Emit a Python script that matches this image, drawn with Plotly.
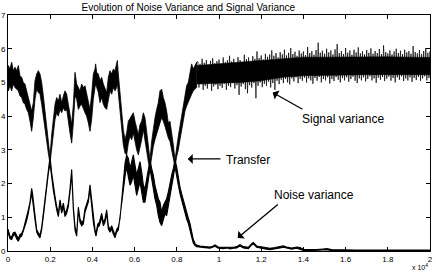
import plotly.graph_objects as go

# ---------------- data ----------------
# Signal variance band (upper trace): sample index, lower / upper edge of the noisy band
signal_x = [0, 16, 95, 174, 253, 332, 411, 490, 569, 648, 727, 806, 885, 964, 1043, 1122, 1201, 1280,
            1359, 1438, 1517, 1596, 1675, 1754, 1833, 1912, 1991, 2070, 2149, 2228, 2307, 2386, 2465,
            2544, 2623, 2702, 2781, 2860, 2939, 3018, 3097, 3176, 3255, 3334, 3413, 3491, 3570, 3649,
            3728, 3807, 3886, 3965, 4044, 4123, 4154, 4202, 4281, 4360, 4439, 4518, 4597, 4676, 4755,
            4834, 4913, 4992, 5071, 5150, 5181, 5229, 5308, 5387, 5466, 5545, 5624, 5703, 5782, 5861,
            5940, 6019, 6098, 6177, 6256, 6335, 6414, 6492, 6571, 6650, 6729, 6808, 6887, 6966, 7045,
            7124, 7203, 7282, 7361, 7440, 7519, 7598, 7677, 7756, 7835, 7914, 7993, 8071, 8150, 8229,
            8308, 8387, 8466, 8545, 8624, 8703, 8782, 8861, 8940]
signal_lo = [4.8, 4.75, 4.9, 4.75, 4.95, 4.85, 4.8, 4.75, 4.6, 4.55, 4.4, 4.35, 4.2, 4.1, 3.85, 3.55, 3.95, 4.5,
             4.8, 4.7, 4.65, 4.35, 3.95, 3.6, 3.3, 2.9, 2.6, 3.05, 3.5, 3.9, 4.1, 4.0, 4.2,
             4.1, 4.25, 4.15, 4.2, 3.8, 3.5, 3.2, 3.8, 4.6, 4.5, 4.2, 4.3, 4.35, 4.2, 4.1,
             4.0, 3.8, 3.55, 3.9, 4.5, 4.85, 4.95, 4.85, 4.7, 4.4, 4.55, 4.35, 4.25, 4.2, 4.5,
             4.75, 4.65, 4.85, 4.75, 4.85, 5.0, 4.65, 4.1, 3.65, 3.15, 2.9, 2.85, 3.2, 3.4, 3.3,
             3.5, 3.25, 3.0, 2.85, 3.1, 3.3, 3.6, 3.4, 3.0, 2.65, 2.45, 2.8, 3.1, 3.3, 3.45,
             3.65, 3.8, 3.95, 3.85, 3.7, 3.55, 3.35, 3.25, 3.1, 2.75, 2.5, 2.8, 3.0, 3.3, 3.6,
             3.9, 4.15, 4.3, 4.45, 4.55, 4.65, 4.75, 4.8, 4.85]
signal_hi = [5.35, 5.5, 5.4, 5.6, 5.35, 5.45, 5.35, 5.5, 5.2, 5.15, 5.0, 4.95, 4.75, 4.55, 4.35, 4.15, 4.4, 5.05,
             5.25, 5.35, 5.25, 5.0, 4.6, 4.15, 3.8, 3.3, 2.8, 3.45, 3.95, 4.35, 4.55, 4.45, 4.65,
             4.4, 4.6, 4.75, 4.65, 4.35, 4.05, 3.75, 4.35, 5.3, 4.95, 4.85, 4.75, 4.95, 4.85, 4.9,
             4.65, 4.45, 4.2, 4.65, 5.25, 5.4, 5.55, 5.3, 5.25, 5.05, 5.15, 4.95, 4.8, 4.7, 5.15,
             5.35, 5.25, 5.4, 5.35, 5.55, 5.65, 5.25, 4.7, 4.1, 3.6, 3.3, 3.5, 3.85, 3.95, 4.05,
             4.1, 3.85, 3.65, 3.45, 3.75, 3.85, 4.1, 3.95, 3.55, 3.05, 2.7, 3.25, 3.65, 3.95, 4.2,
             4.4, 4.75, 4.8, 4.55, 4.4, 4.15, 3.8, 3.85, 3.55, 3.15, 2.7, 3.15, 3.4, 3.7, 4.0,
             4.35, 4.7, 4.9, 5.0, 5.25, 5.55, 5.4, 5.5, 5.6]

# Signal variance plateau: solid core of the band (every 1000 samples)
core_x = [8940, 10000, 11000, 12000, 13000, 14000, 15000, 16000, 17000, 18000, 19000, 20000]
core_lo = [4.95, 4.98, 5.0, 5.05, 5.15, 5.2, 5.22, 5.22, 5.23, 5.23, 5.22, 5.23]
core_hi = [5.5, 5.55, 5.6, 5.65, 5.7, 5.75, 5.75, 5.76, 5.75, 5.76, 5.75, 5.74]

# Signal variance plateau (every 100 samples from 9000 to 20000): peaks and troughs of the noise
plateau_x = list(range(9000, 20001, 100))
plateau_hi = [5.62, 5.55, 5.70, 5.58, 5.66, 5.52, 5.64, 5.72, 5.57, 5.63,
              5.68, 5.55, 5.74, 5.60, 5.66, 5.79, 5.62, 5.70, 5.58, 5.75,
              5.66, 5.61, 5.82, 5.69, 5.74, 5.63, 5.78, 5.70, 5.92, 5.72,
              5.80, 5.68, 5.85, 5.76, 5.83, 5.95, 5.79, 5.87, 5.74, 5.90,
              5.83, 5.97, 5.80, 5.88, 6.02, 5.84, 5.91, 5.79, 5.95, 5.86,
              5.92, 5.81, 6.05, 5.87, 5.93, 5.82, 5.96, 6.18, 5.88, 5.94,
              5.85, 6.00, 5.89, 5.95, 5.83, 5.98, 6.14, 5.87, 5.93, 5.84,
              6.02, 5.88, 5.95, 5.82, 5.97, 5.89, 6.04, 5.86, 5.92, 5.83,
              5.96, 5.88, 6.01, 5.85, 5.93, 5.87, 5.99, 5.84, 6.10, 5.90,
              5.86, 5.95, 5.83, 5.92, 6.00, 5.87, 5.94, 5.84, 5.97, 5.89,
              5.93, 5.85, 6.08, 5.90, 5.86, 5.96, 5.84, 5.93, 6.02, 5.88,
              5.92]
plateau_lo = [4.85, 4.95, 4.78, 4.90, 4.82, 4.97, 4.75, 4.88, 4.93, 4.80,
              4.90, 4.84, 4.96, 4.78, 4.90, 4.86, 4.98, 4.82, 4.92, 4.63,
              4.88, 4.95, 4.80, 4.68, 4.92, 4.85, 4.98, 4.53, 4.90, 5.00,
              4.86, 4.96, 4.90, 5.02, 4.85, 4.98, 4.78, 5.05, 4.95, 5.08,
              4.98, 5.10, 5.00, 4.94, 5.12, 5.03, 5.15, 4.98, 5.10, 5.05,
              5.14, 5.00, 5.12, 5.06, 4.96, 5.13, 5.05, 5.16, 5.00, 5.10,
              5.06, 5.15, 4.97, 5.10, 5.04, 5.16, 5.08, 5.00, 5.13, 5.06,
              5.15, 5.02, 5.10, 5.17, 5.05, 4.98, 5.12, 5.06, 5.15, 5.03,
              5.10, 5.18, 5.06, 5.12, 4.99, 5.14, 5.08, 5.16, 5.04, 5.11,
              5.17, 5.05, 5.13, 5.00, 5.15, 5.08, 5.18, 5.04, 5.12, 5.06,
              5.15, 5.02, 5.13, 5.07, 5.16, 5.05, 5.12, 5.18, 5.06, 5.13,
              5.10]

# Noise variance (lower trace): sample index, lower / upper edge
noise_x = [0, 16, 95, 174, 253, 332, 411, 490, 569, 648, 727, 806, 885, 964, 1043, 1083, 1122, 1162, 1201,
           1280, 1359, 1438, 1517, 1596, 1675, 1754, 1833, 1912, 1991, 2070, 2149, 2228, 2307, 2386,
           2465, 2544, 2623, 2702, 2781, 2860, 2939, 3018, 3097, 3176, 3255, 3334, 3413, 3491, 3570,
           3649, 3728, 3807, 3886, 3965, 4044, 4123, 4170, 4250, 4330, 4400, 4439, 4518, 4597, 4676,
           4755, 4834, 4913, 4992, 5071, 5150, 5229, 5308, 5387, 5466, 5545, 5624, 5703, 5782, 5861,
           5940, 6019, 6098, 6177, 6256, 6335, 6414, 6492, 6571, 6650, 6729, 6808, 6887, 6966, 7045,
           7124, 7203, 7282, 7361, 7440, 7519, 7598, 7677, 7756, 7835, 7914, 7993, 8071, 8150, 8229,
           8308, 8387, 8466, 8545, 8624, 8703, 8782, 8861, 8940, 9100, 9336, 9573, 9700, 9810, 9968,
           10205, 10400, 10521, 10700, 10837, 10995, 11153, 11390, 11548, 11627, 11785, 11943, 12180,
           12417, 12654, 12891, 13049, 13207, 13444, 13681, 13839, 13997, 14313, 14629, 14945, 15103,
           15340, 15735, 16500, 17500, 18500, 20000]
noise_lo = [0.55, 0.52, 0.36, 0.34, 0.46, 0.48, 0.36, 0.29, 0.41, 0.44, 0.56, 0.72, 0.90, 1.12, 1.35, 1.55, 1.74, 1.60, 1.42,
            0.92, 0.56, 0.46, 0.39, 0.63, 1.02, 1.42, 1.80, 2.30, 2.60, 2.20, 1.80, 1.50, 1.22, 1.02,
            1.42, 1.12, 1.32, 1.02, 1.12, 1.32, 1.75, 2.30, 1.22, 0.62, 0.44, 1.20, 0.85, 0.75, 0.80,
            1.15, 1.30, 1.45, 1.84, 1.35, 0.85, 0.56, 0.44, 0.70, 0.75, 0.90, 1.02, 0.75, 0.85, 1.12,
            0.65, 0.56, 0.65, 0.50, 0.39, 0.56, 0.62, 0.85, 1.35, 1.80, 2.20, 2.50, 2.20, 1.95, 2.05,
            2.25, 1.95, 1.65, 1.85, 2.05, 1.75, 1.45, 1.45, 1.75, 2.10, 2.45, 2.10, 1.85, 1.55, 1.35,
            1.05, 0.85, 0.75, 0.90, 1.10, 1.05, 1.30, 1.60, 1.90, 2.20, 2.50, 2.20, 1.95, 1.70, 1.50,
            1.28, 1.12, 0.95, 0.82, 0.66, 0.42, 0.24, 0.16, 0.13, 0.11, 0.10, 0.08, 0.11, 0.14, 0.08,
            0.07, 0.09, 0.06, 0.08, 0.09, 0.15, 0.09, 0.07, 0.18, 0.21, 0.11, 0.09, 0.06,
            0.04, 0.06, 0.09, 0.11, 0.08, 0.05, 0.08, 0.06, 0.02, 0.01, 0.01, 0.03, 0.04,
            0.01, 0.00, 0.00, 0.00, 0.00, 0.00]
noise_hi = [0.65, 0.60, 0.44, 0.42, 0.54, 0.56, 0.44, 0.37, 0.49, 0.52, 0.64, 0.82, 1.00, 1.22, 1.45, 1.65, 1.86, 1.70, 1.52,
            1.02, 0.64, 0.54, 0.47, 0.71, 1.12, 1.52, 1.92, 2.42, 2.80, 2.32, 1.92, 1.62, 1.32, 1.12,
            1.52, 1.22, 1.42, 1.12, 1.22, 1.42, 1.85, 2.42, 1.32, 0.72, 0.52, 1.30, 0.95, 0.85, 0.90,
            1.25, 1.40, 1.55, 1.96, 1.45, 0.95, 0.64, 0.52, 0.80, 0.85, 1.00, 1.12, 0.85, 0.95, 1.22,
            0.75, 0.64, 0.75, 0.60, 0.47, 0.64, 0.72, 0.95, 1.45, 1.92, 2.60, 2.85, 2.75, 2.45, 2.65,
            2.85, 2.55, 2.25, 2.45, 2.65, 2.35, 1.95, 1.85, 2.15, 2.45, 2.70, 2.45, 2.25, 1.95, 1.75,
            1.55, 1.45, 1.15, 1.35, 1.45, 1.55, 1.75, 2.05, 2.25, 2.45, 2.70, 2.50, 2.15, 1.90, 1.70,
            1.50, 1.32, 1.12, 0.98, 0.82, 0.58, 0.34, 0.22, 0.18, 0.15, 0.14, 0.12, 0.14, 0.18, 0.12,
            0.11, 0.12, 0.10, 0.11, 0.13, 0.19, 0.13, 0.11, 0.22, 0.25, 0.15, 0.13, 0.10,
            0.08, 0.10, 0.13, 0.15, 0.12, 0.09, 0.12, 0.10, 0.05, 0.04, 0.04, 0.06, 0.07,
            0.04, 0.03, 0.03, 0.03, 0.03, 0.03]

x_tick_vals = [0, 2000, 4000, 6000, 8000, 10000, 12000, 14000, 16000, 18000, 20000]
x_tick_text = ["0", "0.2", "0.4", "0.6", "0.8", "1", "1.2", "1.4", "1.6", "1.8", "2"]
y_tick_vals = [0, 1, 2, 3, 4, 5, 6, 7]

title_text = "Evolution of Noise Variance and Signal Variance"

# ---------------- figure ----------------
FONT = "Liberation Sans, Arial, Helvetica, sans-serif"

def band(xs, lo, hi, name, lw=0.8):
    return go.Scatter(
        x=list(xs) + list(xs)[::-1],
        y=list(hi) + list(lo)[::-1],
        fill="toself", fillcolor="black",
        line=dict(color="black", width=lw),
        mode="lines", name=name, hoverinfo="skip", showlegend=False,
    )

# plateau drawn as the noisy trace itself: alternate between the read peaks and troughs
zig_x, zig_y = [], []
for i, xv in enumerate(plateau_x):
    zig_x += [xv, xv + 50]
    zig_y += [plateau_hi[i], plateau_lo[i]]

fig = go.Figure()
fig.add_trace(band(signal_x, signal_lo, signal_hi, "Signal variance"))
fig.add_trace(band(core_x, core_lo, core_hi, "Signal variance", lw=0.5))
fig.add_trace(go.Scatter(x=[signal_x[-1]] + zig_x, y=[signal_hi[-1]] + zig_y, mode="lines",
                         line=dict(color="black", width=0.7), hoverinfo="skip", showlegend=False,
                         name="Signal variance"))
fig.add_trace(band(noise_x, noise_lo, noise_hi, "Noise variance", lw=1.1))

arrow_style = dict(showarrow=True, arrowhead=1, arrowsize=1.3, arrowwidth=1.3,
                   arrowcolor="black", text="", xref="x", yref="y", axref="x", ayref="y")
annotations = [
    dict(x=12545, y=4.70, ax=14028, ay=4.18, **arrow_style),
    dict(x=8517, y=2.73, ax=10142, ay=2.73, **arrow_style),
    dict(x=10886, y=0.386, ax=12858, ay=1.42, **arrow_style),
    dict(x=15863, y=3.92, text="Signal variance", showarrow=False, xref="x", yref="y",
         font=dict(family=FONT, size=12, color="black")),
    dict(x=10237, y=2.70, text="Transfer", showarrow=False, xref="x", yref="y", xanchor="left",
         font=dict(family=FONT, size=12, color="black")),
    dict(x=14502, y=1.65, text="Noise variance", showarrow=False, xref="x", yref="y",
         font=dict(family=FONT, size=12, color="black")),
    dict(x=1.0, y=-0.068, xref="paper", yref="paper", xanchor="right", yanchor="middle",
         text="x 10<sup>4</sup>", showarrow=False, font=dict(family=FONT, size=7, color="black")),
]

fig.update_layout(
    width=436, height=273,
    margin=dict(l=8, r=6, t=15, b=22),
    paper_bgcolor="white", plot_bgcolor="white",
    title=dict(text=title_text, x=0.432, xanchor="center", y=0.974, yanchor="middle",
               font=dict(family=FONT, size=10, color="black")),
    annotations=annotations,
    showlegend=False,
    xaxis=dict(range=[0, 20000], tickvals=x_tick_vals, ticktext=x_tick_text,
               ticks="inside", ticklen=4, tickcolor="black", showline=True, linecolor="black",
               linewidth=1, mirror="ticks", showgrid=False, zeroline=False, automargin=False,
               tickfont=dict(family=FONT, size=8, color="black")),
    yaxis=dict(range=[0, 7], tickvals=y_tick_vals,
               ticks="inside", ticklen=4, tickcolor="black", showline=True, linecolor="black",
               linewidth=1, mirror="ticks", showgrid=False, zeroline=False, automargin=False,
               tickfont=dict(family=FONT, size=8, color="black")),
)

fig.write_html("out.html", config={"displayModeBar": False},
               post_script="document.body.style.margin='0';document.body.style.padding='0';")
